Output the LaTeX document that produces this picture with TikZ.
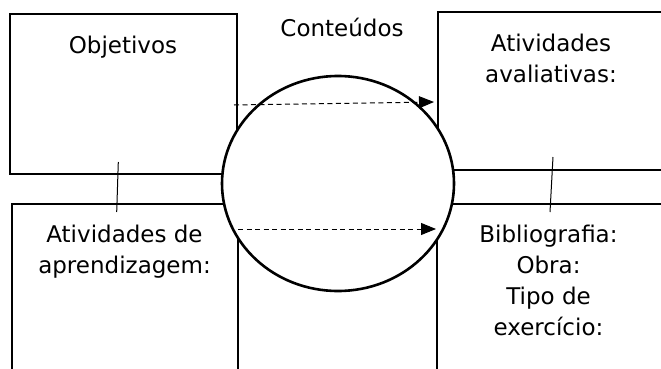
\documentclass[tikz,border=0pt]{standalone}
\usepackage{fontspec}
\setmainfont{DejaVu Sans}
\usetikzlibrary{shapes.geometric,arrows.meta}
\begin{document}
\begin{tikzpicture}[x=1pt,y=-1pt,
  box/.style={draw, line width=2.6pt, rectangle, inner sep=0pt, outer sep=0pt},
  lbl/.style={font=\fontsize{23}{31}\selectfont, align=center, anchor=base, inner sep=0pt},
  link/.style={line width=1pt},
  flow/.style={line width=1pt, dash pattern=on 5pt off 3.5pt, -{Triangle[length=15pt,width=12pt]}}]
\useasboundingbox (0,0) rectangle (661,369);
\clip (0,0) rectangle (661,369);
% boxes
\node[box, minimum width=227pt, minimum height=160pt] (tl) at (123.5,94) {};
\node[box, minimum width=300pt, minimum height=158pt] (tr) at (588,91) {};
\node[box, minimum width=226pt, minimum height=220pt] (bl) at (125,314) {};
\node[box, minimum width=300pt, minimum height=220pt] (br) at (587,314) {};
% central ellipse
\node[ellipse, draw, line width=2.6pt, fill=white, minimum width=232pt, minimum height=215pt, inner sep=0pt] (c) at (338,183.5) {};
% small connectors between boxes
\coordinate (t1) at (118.3,162);
\coordinate (t2) at (116.7,212);
\coordinate (t3) at (553,157);
\coordinate (t4) at (550,212);
\draw[link] (t1) -- (t2);
\draw[link] (t3) -- (t4);
% dashed arrows
\coordinate (a1) at (234,105);
\coordinate (a2) at (434,102);
\coordinate (b1) at (238,229);
\coordinate (b2) at (436,229);
\draw[flow] (a1) -- (a2);
\draw[flow] (b1) -- (b2);
% labels (anchor base = baseline of the last line)
\node[lbl] (lo) at (123,53) {Objetivos};
\node[lbl] (lc) at (342,37) {Conteúdos};
\node[lbl] (la) at (551,82) {Atividades\\avaliativas:};
\node[lbl] (lp) at (124.5,273) {Atividades de\\aprendizagem:};
\node[lbl] (lb) at (548.5,335) {Bibliografia:\\Obra:\\Tipo de\\exercício:};
\end{tikzpicture}
\end{document}
